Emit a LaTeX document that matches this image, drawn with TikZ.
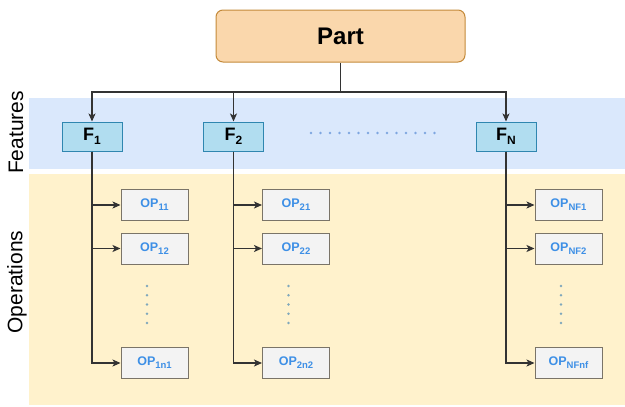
\documentclass[tikz,border=0pt]{standalone}
\usepackage{fontspec}
\setmainfont{Liberation Sans}
\usetikzlibrary{arrows.meta}
\definecolor{partfill}{HTML}{FAD7AC}
\definecolor{partdraw}{HTML}{C48A3A}
\definecolor{ffill}{HTML}{B1DDF0}
\definecolor{fdraw}{HTML}{2F86B0}
\definecolor{blueband}{HTML}{DAE8FC}
\definecolor{yellowband}{HTML}{FFF2CC}
\definecolor{opfill}{HTML}{F3F3F3}
\definecolor{opdraw}{HTML}{7A7468}
\definecolor{optext}{HTML}{3D8FE6}
\definecolor{linecol}{HTML}{333333}
\definecolor{dotblue}{HTML}{7EA6E0}
\definecolor{dotgray}{HTML}{7FA8BC}
\newcommand{\fsub}[1]{\raisebox{-4pt}{\fontsize{12}{13}\selectfont #1}}
\newcommand{\opsub}[1]{\raisebox{-3pt}{\fontsize{9.5}{10}\selectfont #1}}
\tikzset{
  partbox/.style={draw=partdraw, fill=partfill, line width=1pt, rounded corners=7pt,
    minimum width=249pt, minimum height=52pt, inner sep=0pt,
    font=\fontsize{24}{28}\selectfont\bfseries},
  featbox/.style={draw=fdraw, fill=ffill, line width=1pt,
    minimum width=60pt, minimum height=29pt, inner sep=0pt,
    font=\fontsize{18}{20}\selectfont\bfseries},
  opbox/.style={draw=opdraw, fill=opfill, line width=1pt,
    minimum width=67pt, minimum height=31pt, inner sep=0pt, text=optext,
    font=\fontsize{12.5}{14}\selectfont\bfseries},
  sidelabel/.style={rotate=90, font=\fontsize{21}{24}\selectfont, inner sep=0pt},
  conn/.style={draw=linecol, line width=1.2pt},
  arr/.style={conn, -{Stealth[length=8pt,width=7pt,inset=2pt]}},
  hdots/.style={draw=dotblue, line width=2.6pt, line cap=round, dash pattern=on 0pt off 9.5pt},
  vdots/.style={draw=dotgray, line width=2.6pt, line cap=round, dash pattern=on 0pt off 9.25pt}
}
\begin{document}
\begin{tikzpicture}[x=1pt,y=-1pt]
\useasboundingbox (0,0) rectangle (625,407);
% bands
\fill[blueband] (29,98) rectangle (625,169);
\fill[yellowband] (29,174) rectangle (625,405);
% labels
\node[sidelabel] (lfeat) at (16,132.5) {Features};
\node[sidelabel] (lops) at (17,282) {Operations};
% part
\node[partbox] (part) at (340.5,36) {Part};
\coordinate (bus) at (340.5,92);
% features
\node[featbox] (f1) at (92,136.5) {F\fsub{1}};
\node[featbox] (f2) at (233.5,136.5) {F\fsub{2}};
\node[featbox] (fN) at (506,136.5) {F\fsub{N}};
% operations col 1
\node[opbox] (op11) at (154.5,205) {OP\opsub{11}};
\node[opbox] (op12) at (154.5,248.5) {OP\opsub{12}};
\node[opbox] (op1n) at (154.5,363) {OP\opsub{1n1}};
% col 2
\node[opbox] (op21) at (296,205) {OP\opsub{21}};
\node[opbox] (op22) at (296,248.5) {OP\opsub{22}};
\node[opbox] (op2n) at (296,363) {OP\opsub{2n2}};
% col N
\node[opbox] (opN1) at (568.5,205) {OP\opsub{NF1}};
\node[opbox] (opN2) at (568.5,248.5) {OP\opsub{NF2}};
\node[opbox] (opNn) at (568.5,363) {OP\opsub{NFnf}};
% connectors part -> features
\draw[conn] (part.south) -- (bus);
\draw[arr] (bus) -| (f1.north);
\draw[arr] (bus) -| (f2.north);
\draw[arr] (bus) -| (fN.north);
% features -> operations
\foreach \f/\o in {f1/op11,f1/op12,f1/op1n,f2/op21,f2/op22,f2/op2n,fN/opN1,fN/opN2,fN/opNn}
  \draw[arr] (\f.south) |- (\o.west);
% dotted lines
\coordinate (hd1) at (311,133);
\coordinate (hd2) at (435.5,133);
\draw[hdots] (hd1) -- (hd2);
\coordinate (v1a) at (147,286);
\coordinate (v1b) at (147,323.5);
\coordinate (v2a) at (288.5,286);
\coordinate (v2b) at (288.5,323.5);
\coordinate (vNa) at (561,286);
\coordinate (vNb) at (561,323.5);
\draw[vdots] (v1a) -- (v1b);
\draw[vdots] (v2a) -- (v2b);
\draw[vdots] (vNa) -- (vNb);
\end{tikzpicture}
\end{document}
